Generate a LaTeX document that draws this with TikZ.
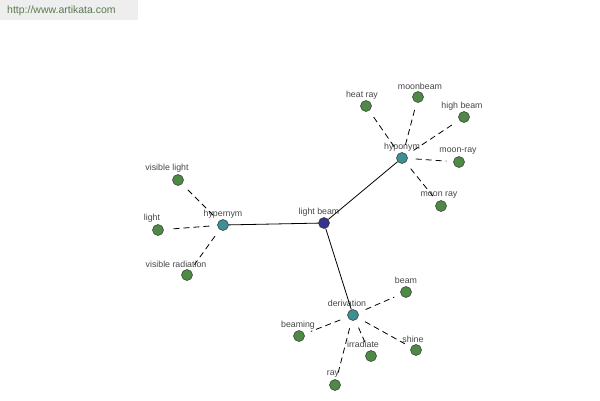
\documentclass[tikz,border=0pt]{standalone}
\usepackage{fontspec}
\setmainfont{Liberation Sans}
\begin{document}
\begin{tikzpicture}[x=1pt,y=-1pt,
  leaf/.style={circle,draw=black!80,line width=0.5pt,fill=leafgreen,minimum size=11pt,inner sep=0pt},
  rel/.style={circle,draw=black!80,line width=0.5pt,fill=relteal,minimum size=11pt,inner sep=0pt},
  root/.style={circle,draw=black!80,line width=0.5pt,fill=rootblue,minimum size=11pt,inner sep=0pt},
  lbl/.style={font=\fontsize{8.8}{9}\selectfont,text=black!72,inner sep=0pt},
  solidedge/.style={draw=black,line width=0.8pt},
  dashedge/.style={draw=black,line width=0.8pt,dash pattern=on 6pt off 4pt,shorten <=8pt,shorten >=7pt}]
\definecolor{leafgreen}{HTML}{4E8A45}
\definecolor{relteal}{HTML}{3E8E92}
\definecolor{rootblue}{HTML}{34348A}
\definecolor{wmgray}{HTML}{EEEEEE}
\definecolor{wmtext}{HTML}{5A7A4E}
\useasboundingbox (0,0) rectangle (600,400);
\fill[white] (0,0) rectangle (600,400);
\fill[wmgray] (0,0) rectangle (138,20);
\node[anchor=west,font=\fontsize{10.5}{11}\selectfont,text=wmtext,inner sep=0pt] (wm) at (7,11) {http://www.artikata.com};
% nodes
\node[root] (lb) at (324,223) {};
\node[rel] (hyper) at (223,225) {};
\node[rel] (hypo) at (402,158) {};
\node[rel] (deriv) at (353,315) {};
\node[leaf] (vl) at (178,180) {};
\node[leaf] (li) at (158,230) {};
\node[leaf] (vr) at (187,275) {};
\node[leaf] (hr) at (366,106) {};
\node[leaf] (mb) at (418,97) {};
\node[leaf] (hb) at (464,117) {};
\node[leaf] (mr) at (459,162) {};
\node[leaf] (mray) at (441,206) {};
\node[leaf] (be) at (406,292) {};
\node[leaf] (bei) at (299,336) {};
\node[leaf] (irr) at (371,356) {};
\node[leaf] (sh) at (416,350) {};
\node[leaf] (ray) at (335,385) {};
% labels
\node[lbl] (tlb) at (319,212) {light beam};
\node[lbl] (thyper) at (223,214) {hypernym};
\node[lbl] (thypo) at (402,147) {hyponym};
\node[lbl] (tderiv) at (347,303) {derivation};
\node[lbl] (tvl) at (167,168) {visible light};
\node[lbl] (tli) at (152,218) {light};
\node[lbl] (tvr) at (176,264) {visible radiation};
\node[lbl] (thr) at (362,95) {heat ray};
\node[lbl] (tmb) at (420,86) {moonbeam};
\node[lbl] (thb) at (462,106) {high beam};
\node[lbl] (tmr) at (458,151) {moon-ray};
\node[lbl] (tmray) at (439,195) {moon ray};
\node[lbl] (tbe) at (406,280) {beam};
\node[lbl] (tbei) at (298,325) {beaming};
\node[lbl] (tirr) at (363,344) {irradiate};
\node[lbl] (tsh) at (413,339) {shine};
\node[lbl] (tray) at (333,374) {ray};
% edges
\path[solidedge] (lb) -- (hyper) (lb) -- (hypo) (lb) -- (deriv);
\path[dashedge] (hyper) -- (vl);
\path[dashedge] (hyper) -- (li);
\path[dashedge] (hyper) -- (vr);
\path[dashedge] (hypo) -- (hr);
\path[dashedge] (hypo) -- (mb);
\path[dashedge] (hypo) -- (hb);
\path[dashedge] (hypo) -- (mr);
\path[dashedge] (hypo) -- (mray);
\path[dashedge] (deriv) -- (be);
\path[dashedge] (deriv) -- (bei);
\path[dashedge] (deriv) -- (irr);
\path[dashedge] (deriv) -- (sh);
\path[dashedge] (deriv) -- (ray);
\end{tikzpicture}
\end{document}
